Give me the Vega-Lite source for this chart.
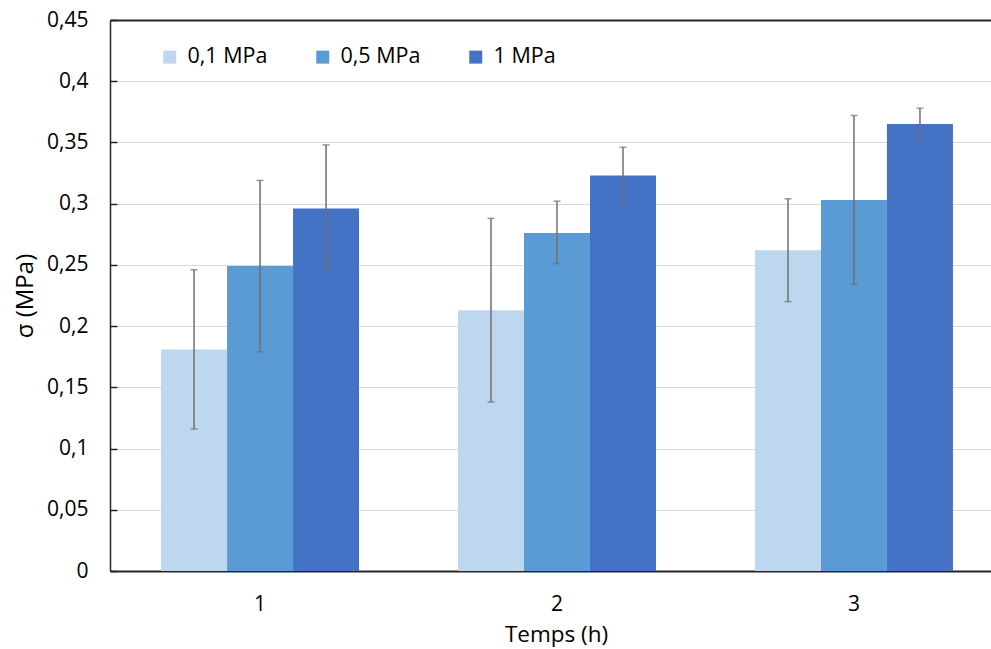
{
  "$schema": "https://vega.github.io/schema/vega-lite/v6.json",
  "width": 881,
  "height": 551,
  "autosize": {"type": "none"},
  "padding": {"left": 110, "top": 20, "right": 0, "bottom": 78},
  "background": "white",
  "config": {"view": {"stroke": null}, "font": "Open Sans"},
  "data": {
    "values": [
      {"t": "1", "p": "0,1 MPa", "s": 0.181, "lo": 0.116, "hi": 0.246},
      {"t": "1", "p": "0,5 MPa", "s": 0.249, "lo": 0.179, "hi": 0.319},
      {"t": "1", "p": "1 MPa", "s": 0.296, "lo": 0.245, "hi": 0.348},
      {"t": "2", "p": "0,1 MPa", "s": 0.213, "lo": 0.138, "hi": 0.288},
      {"t": "2", "p": "0,5 MPa", "s": 0.276, "lo": 0.251, "hi": 0.302},
      {"t": "2", "p": "1 MPa", "s": 0.323, "lo": 0.301, "hi": 0.346},
      {"t": "3", "p": "0,1 MPa", "s": 0.262, "lo": 0.220, "hi": 0.304},
      {"t": "3", "p": "0,5 MPa", "s": 0.303, "lo": 0.234, "hi": 0.372},
      {"t": "3", "p": "1 MPa", "s": 0.365, "lo": 0.352, "hi": 0.378}
    ]
  },
  "encoding": {
    "x": {
      "field": "t",
      "type": "nominal",
      "scale": {"paddingInner": 0.3333, "paddingOuter": 0.15, "align": 0.573},
      "axis": {
        "title": "Temps (h)",
        "titleFontSize": 22.5,
        "titleFontWeight": "normal",
        "titleColor": "#000000",
        "titlePadding": 9,
        "titleX": 446,
        "labelFontSize": 21,
        "labelColor": "#000000",
        "labelAngle": 0,
        "labelPadding": 22,
        "ticks": false,
        "domainColor": "#262626",
        "domainWidth": 2,
        "grid": false
      }
    },
    "xOffset": {
      "field": "p",
      "type": "nominal",
      "sort": ["0,1 MPa", "0,5 MPa", "1 MPa"],
      "scale": {"paddingInner": 0, "paddingOuter": 0}
    }
  },
  "layer": [
    {
      "mark": {"type": "bar"},
      "encoding": {
        "y": {
          "field": "s",
          "type": "quantitative",
          "scale": {"domain": [0, 0.45], "nice": false},
          "axis": {
            "title": "σ (MPa)",
            "titleFontSize": 24,
            "titleFontWeight": "normal",
            "titleColor": "#000000",
            "titlePadding": 9,
            "values": [0, 0.05, 0.1, 0.15, 0.2, 0.25, 0.3, 0.35, 0.4, 0.45],
            "labelExpr": "replace(format(datum.value, '.2~f'), '.', ',')",
            "labelFontSize": 21,
            "labelColor": "#000000",
            "labelPadding": 29,
            "tickSize": -7,
            "tickColor": "#262626",
            "tickWidth": 1.5,
            "domainColor": "#262626",
            "domainWidth": 1.5,
            "grid": true,
            "gridColor": {"condition": {"test": "datum.value >= 0.449", "value": "#262626"}, "value": "#d9d9d9"},
            "gridWidth": {"condition": {"test": "datum.value >= 0.449", "value": 2}, "value": 1}
          }
        },
        "color": {
          "field": "p",
          "type": "nominal",
          "sort": ["0,1 MPa", "0,5 MPa", "1 MPa"],
          "scale": {"domain": ["0,1 MPa", "0,5 MPa", "1 MPa"], "range": ["#BDD7EE", "#5B9BD5", "#4472C4"]},
          "legend": {
            "orient": "none",
            "legendX": 49,
            "legendY": 26,
            "direction": "horizontal",
            "title": null,
            "symbolType": "square",
            "symbolSize": 169,
            "symbolStrokeWidth": 0,
            "labelFontSize": 21.5,
            "labelColor": "#000000",
            "labelOffset": 7,
            "columnPadding": 44
          }
        }
      }
    },
    {
      "mark": {"type": "rule", "color": "#707070", "strokeWidth": 1.5},
      "encoding": {
        "y": {"field": "lo", "type": "quantitative"},
        "y2": {"field": "hi"}
      }
    },
    {
      "mark": {"type": "tick", "color": "#707070", "size": 7, "thickness": 1.5},
      "encoding": {"y": {"field": "lo", "type": "quantitative"}}
    },
    {
      "mark": {"type": "tick", "color": "#707070", "size": 7, "thickness": 1.5},
      "encoding": {"y": {"field": "hi", "type": "quantitative"}}
    }
  ]
}
